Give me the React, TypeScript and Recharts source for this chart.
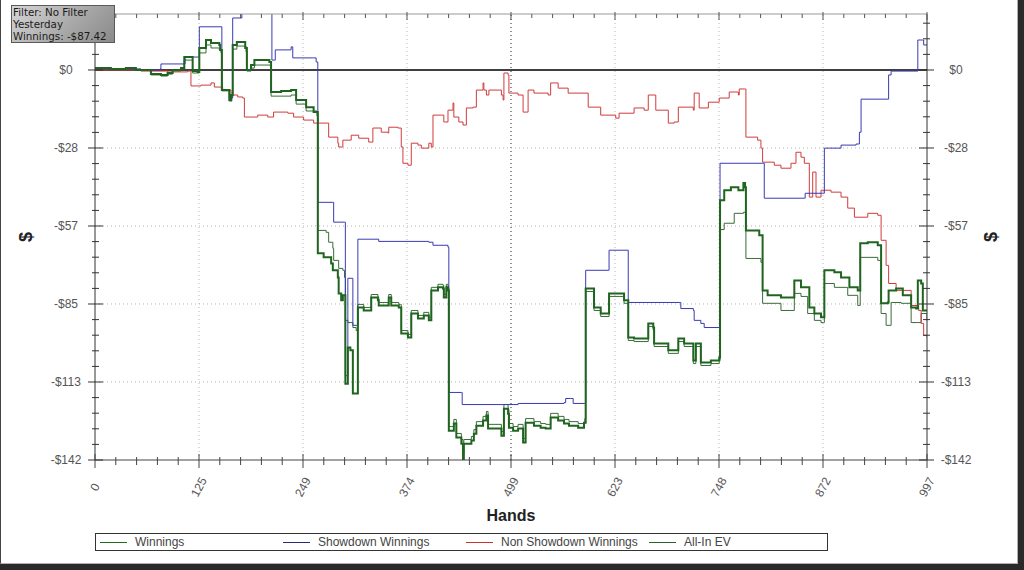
import { LineChart, Line, XAxis, YAxis, ReferenceLine } from "recharts";

// [hand, $] points
const winnings: [number, number][] = [
  [0, 0.7], [7, 0.7], [19, 0.4], [37, 0.7], [49, 0], [67, -1.5], [79, -1.8], [87, -1.1], [93, 0], [103, 0.7],
  [106, 0.7], [107, 4.7], [115, 4.7], [117, -0.4], [123, -0.7], [124, -0.7], [125, 8.0], [133, 10.9], [139, 9.8], [149, 9.1],
  [150, 7.3], [151, 7.3], [152, -7.3], [161, -10.9], [163, -9.1], [164, -9.1], [165, 9.1], [170, 10.2], [180, 8.0], [181, 8.0],
  [182, 0], [187, 1.8], [191, 3.6], [209, 2.9], [210, 2.9], [211, -8.0], [223, -7.6], [235, -7.3], [241, -10.9], [253, -13.5],
  [262, -15.3], [266, -15.3], [267, -66.6], [274, -68.1], [283, -70.3], [285, -72.8], [291, -75.4], [292, -81.2], [295, -83.7], [297, -81.9],
  [299, -81.9], [300, -114.0], [302, -114.0], [303, -100.9], [306, -101.9], [308, -101.9], [309, -117.6], [313, -117.6], [315, -86.3], [322, -87.4],
  [331, -82.7], [339, -83.7], [340, -85.6], [352, -82.7], [355, -85.6], [364, -86.3], [366, -86.3], [367, -95.8], [375, -97.2], [379, -88.5],
  [387, -90.3], [394, -89.2], [400, -91.0], [402, -91.0], [403, -80.1], [411, -79.0], [417, -79.4], [418, -82.7], [421, -79.0], [423, -80.1],
  [424, -131.1], [430, -128.5], [433, -133.6], [439, -135.8], [441, -142.0], [442, -135.8], [451, -134.7], [454, -132.2], [457, -129.3], [465, -127.4],
  [469, -125.6], [471, -130.3], [477, -130.3], [487, -132.9], [490, -123.1], [495, -124.9], [496, -130.0], [501, -131.1], [507, -130.3], [513, -135.4],
  [516, -128.2], [526, -129.3], [534, -130.0], [540, -130.3], [546, -126.3], [555, -127.4], [562, -128.5], [568, -129.3], [579, -130.0], [586, -128.2],
  [587, -128.2], [588, -79.4], [598, -86.3], [606, -88.5], [616, -81.2], [628, -81.2], [634, -83.7], [639, -97.2], [646, -97.6], [663, -92.1],
  [669, -93.6], [670, -99.4], [687, -101.9], [699, -97.6], [706, -99.4], [717, -105.6], [720, -99.4], [726, -106.3], [738, -105.6], [748, -104.5],
  [749, -47.3], [754, -43.7], [762, -42.6], [771, -43.7], [777, -41.1], [779, -42.6], [780, -58.3], [796, -60.1], [799, -60.1], [800, -80.1],
  [806, -81.9], [822, -82.7], [838, -76.5], [846, -79.0], [856, -86.3], [862, -88.5], [870, -89.9], [873, -89.9], [874, -72.8], [886, -73.5],
  [894, -75.4], [904, -79.0], [914, -80.1], [916, -80.1], [917, -63.0], [926, -62.6], [938, -63.7], [941, -63.7], [942, -84.8], [950, -84.5],
  [951, -80.1], [960, -79.4], [968, -81.9], [978, -86.3], [984, -86.7], [986, -76.5], [990, -77.6], [992, -87.4], [997, -87.4],
];

const allInEV: [number, number][] = [
  [0, 0.7], [19, 0.4], [37, 0.7], [49, 0], [67, -1.8], [79, -2.2], [87, -1.5], [93, -0.4], [103, 0.4], [106, 0.4],
  [107, 3.6], [115, 3.6], [117, -1.1], [124, -1.1], [125, 6.2], [133, 9.1], [139, 8.0], [149, 7.3], [151, 6.2], [152, -7.6],
  [161, -11.3], [164, -9.5], [165, 7.6], [170, 8.7], [181, 6.6], [182, -0.4], [187, 0.7], [191, 1.8], [210, 1.5], [211, -9.5],
  [235, -9.1], [241, -12.4], [253, -14.9], [266, -16.7], [267, -58.3], [277, -59.0], [280, -62.6], [285, -64.8], [286, -69.2], [292, -72.1],
  [297, -72.8], [299, -75.4], [300, -91.0], [303, -91.8], [309, -93.6], [313, -94.7], [315, -85.2], [322, -86.3], [331, -81.6], [339, -82.6],
  [340, -84.5], [352, -81.6], [355, -84.5], [364, -85.2], [366, -85.2], [367, -94.7], [375, -96.1], [379, -87.4], [387, -89.2], [394, -88.1],
  [400, -89.9], [402, -89.9], [403, -79.0], [411, -77.9], [417, -78.3], [418, -81.6], [421, -77.9], [423, -79.0], [424, -129.6], [430, -127.0],
  [433, -132.1], [439, -134.3], [441, -139.5], [442, -134.3], [451, -133.2], [454, -130.7], [457, -127.8], [465, -125.9], [469, -124.1], [471, -128.8],
  [477, -128.8], [487, -131.4], [490, -121.6], [495, -123.4], [496, -128.5], [501, -129.6], [507, -128.8], [513, -133.9], [516, -126.7], [526, -127.8],
  [534, -128.5], [540, -128.8], [546, -124.8], [555, -125.9], [562, -127.0], [568, -127.8], [579, -128.5], [587, -126.7], [588, -80.5], [598, -87.4],
  [606, -89.6], [616, -82.3], [628, -82.3], [634, -84.8], [639, -98.3], [646, -98.7], [663, -93.2], [669, -94.7], [670, -100.5], [687, -103.0],
  [699, -98.7], [706, -100.5], [717, -106.7], [720, -100.5], [726, -107.4], [738, -106.7], [748, -105.6], [749, -58.0], [754, -55.7], [766, -52.1],
  [777, -51.7], [779, -51.7], [780, -68.5], [798, -69.9], [800, -84.8], [822, -87.4], [838, -81.2], [846, -82.3], [854, -88.5], [862, -91.0],
  [870, -91.8], [873, -91.8], [874, -77.6], [886, -79.0], [902, -81.9], [914, -85.6], [916, -85.6], [917, -68.1], [938, -69.2], [941, -69.2],
  [942, -88.5], [948, -92.8], [954, -84.5], [966, -84.8], [978, -91.8], [986, -91.8], [990, -88.5], [997, -91.0],
];

const showdown: [number, number][] = [
  [0, 0.4], [55, 0], [78, 0.4], [79, 2.2], [107, 2.2], [108, 4.7], [124, 4.7], [125, 15.7], [151, 15.7], [152, -7.3],
  [161, -10.2], [164, -10.2], [165, 18.9], [175, 18.9], [176, 23.7], [211, 23.7], [212, 3.6], [216, 7.3], [235, 8.4], [237, 4.4],
  [262, 4.4], [265, 2.9], [266, 2.9], [267, -48.1], [285, -48.1], [286, -55.3], [299, -55.3], [300, -111.1], [302, -111.1], [303, -75.7],
  [308, -75.7], [309, -92.8], [313, -92.8], [315, -61.5], [340, -62.3], [400, -62.6], [405, -63.7], [423, -64.4], [424, -117.2], [439, -117.2],
  [440, -121.6], [490, -121.6], [507, -121.2], [562, -120.9], [564, -119.4], [570, -119.4], [573, -121.2], [587, -121.2], [588, -72.8], [615, -72.8],
  [616, -65.5], [634, -65.5], [639, -84.5], [700, -84.5], [702, -86.7], [717, -87.4], [718, -91.0], [726, -92.1], [730, -93.6], [748, -93.6],
  [749, -33.9], [800, -33.9], [802, -46.6], [850, -46.6], [851, -44.8], [872, -44.8], [874, -28.4], [894, -27.3], [912, -26.9], [916, -22.6],
  [918, -10.6], [949, -10.6], [951, -1.8], [954, -0.4], [985, -0.4], [986, 10.9], [992, 10.9], [993, 9.1], [997, 9.1],
];

const nonShowdown: [number, number][] = [
  [0, 0], [31, 0], [55, -0.4], [87, -0.7], [111, -0.4], [114, -0.4], [115, -5.8], [127, -5.5], [139, -4.7], [143, -6.2],
  [153, -7.3], [163, -9.1], [171, -9.8], [177, -10.2], [179, -17.1], [195, -16.4], [207, -17.1], [214, -15.3], [231, -15.7], [238, -17.1],
  [250, -18.2], [262, -19.3], [279, -19.3], [280, -24.4], [291, -26.6], [292, -28.0], [297, -25.5], [307, -23.7], [316, -24.8], [328, -26.2],
  [333, -21.1], [343, -22.6], [351, -22.9], [352, -20.8], [363, -21.1], [367, -28.0], [369, -33.9], [375, -34.6], [379, -26.6], [387, -27.3],
  [391, -28.4], [400, -26.6], [403, -28.0], [405, -16.4], [415, -16.4], [418, -18.9], [423, -14.6], [429, -12.0], [430, -17.1], [436, -18.9],
  [441, -20.0], [445, -13.8], [453, -13.5], [457, -7.3], [465, -4.7], [466, -7.3], [469, -9.1], [472, -7.3], [487, -9.1], [489, -10.9],
  [490, -1.1], [495, -1.8], [496, -8.4], [507, -9.1], [513, -15.3], [519, -7.3], [526, -8.4], [543, -9.1], [546, -4.7], [555, -6.6],
  [567, -8.4], [586, -8.4], [591, -13.5], [598, -13.5], [606, -16.4], [624, -17.5], [628, -15.7], [646, -13.8], [658, -14.6], [663, -9.1],
  [670, -9.1], [672, -14.6], [687, -19.3], [694, -18.9], [699, -13.5], [717, -14.6], [718, -8.4], [724, -13.8], [735, -11.7], [748, -10.2],
  [760, -8.0], [771, -9.1], [772, -6.9], [778, -6.9], [780, -24.4], [794, -25.5], [798, -28.4], [800, -33.5], [814, -34.6], [822, -35.7],
  [834, -33.9], [840, -29.9], [846, -31.7], [850, -33.9], [856, -46.2], [860, -37.1], [864, -46.2], [870, -43.7], [882, -44.4], [894, -46.2],
  [902, -50.2], [910, -53.5], [926, -52.1], [938, -52.8], [942, -61.9], [948, -71.0], [951, -77.6], [960, -80.1], [978, -85.6], [987, -87.4],
  [990, -92.1], [993, -96.5], [997, -97.2],
];

const xTickLabels = ["0", "125", "249", "374", "499", "623", "748", "872", "997"];
const yTickLabels = ["$0", "-$28", "-$57", "-$85", "-$113", "-$142"];
const filterLines = ["Filter: No Filter", "Yesterday", "Winnings: -$87.42"];

const legendItems = [
  { name: "Winnings", color: "#1f6a1f" },
  { name: "Showdown Winnings", color: "#2a2a78" },
  { name: "Non Showdown Winnings", color: "#c83232" },
  { name: "All-In EV", color: "#2d5e2d" },
];

const HANDS = 997;
const Y_MIN = -141.75;
const Y_MAX = 20.35;
const X_MINOR = HANDS / 40;
const Y_MINOR = 28.35 / 5;

const xTicks = Array.from({ length: 41 }, (_, i) => i * X_MINOR);
const yTicks = Array.from({ length: 29 }, (_, i) => Y_MIN + i * Y_MINOR);

const font = "'Liberation Sans', Arial, sans-serif";

const toPts = (s: [number, number][]) => s.map(([h, v]) => ({ hand: h, value: v }));

function LeftTick(props: any) {
  const { x, y, payload } = props;
  const i = Math.round((payload.value - Y_MIN) / Y_MINOR);
  const major = i % 5 === 0;
  return (
    <g>
      <line x1={major ? x - 7 : x - 3} x2={major ? x + 8 : x + 4} y1={y} y2={y} stroke="#333" />
      {major && (
        <text x={x - 29} y={y + 4} textAnchor="middle" fontFamily={font} fontSize={12} fill="#555">
          {yTickLabels[5 - i / 5]}
        </text>
      )}
    </g>
  );
}

function RightTick(props: any) {
  const { x, y, payload } = props;
  const i = Math.round((payload.value - Y_MIN) / Y_MINOR);
  const major = i % 5 === 0;
  return (
    <g>
      <line x1={major ? x - 8 : x - 4} x2={major ? x + 7 : x + 3} y1={y} y2={y} stroke="#333" />
      {major && (
        <text x={x + 29} y={y + 4} textAnchor="middle" fontFamily={font} fontSize={12} fill="#555">
          {yTickLabels[5 - i / 5]}
        </text>
      )}
    </g>
  );
}

function BottomTick(props: any) {
  const { x, y, payload } = props;
  const i = Math.round(payload.value / X_MINOR);
  const major = i % 5 === 0;
  const tx = x + 3.5;
  const ty = y + 29;
  return (
    <g>
      <line x1={x} x2={x} y1={major ? y - 6 : y - 3} y2={major ? y + 8 : y + 5} stroke="#444" />
      {major && (
        <text x={tx} y={ty} textAnchor="middle" transform={`rotate(-62, ${tx}, ${ty})`}
          fontFamily={font} fontSize={12} fill="#555">
          {xTickLabels[i / 5]}
        </text>
      )}
    </g>
  );
}

function TopTick(props: any) {
  const { x, y, payload } = props;
  const i = Math.round(payload.value / X_MINOR);
  const major = i % 5 === 0;
  return <line x1={x} x2={x} y1={major ? y - 2 : y} y2={major ? y + 6 : y + 4} stroke="#555" />;
}

export default function App() {
  return (
    <div style={{ position: "absolute", left: 0, top: 0, width: 1024, height: 570, background: "#2a2a2a" }}>
      <div
        style={{
          position: "absolute", left: 0, top: 0, width: 1018, height: 564, background: "#fff",
          borderLeft: "1px solid #444", borderRight: "1px solid #b0b0b0", borderBottom: "1px solid #b0b0b0",
          boxSizing: "border-box",
        }}
      >
        <LineChart width={1016} height={562} margin={{ top: 0, right: 0, bottom: 0, left: 0 }}>
          <XAxis
            xAxisId="b" type="number" dataKey="hand" domain={[0, HANDS]} allowDataOverflow ticks={xTicks}
            interval={0} height={102} tickLine={false} tickSize={0} tickMargin={0} tick={BottomTick}
            axisLine={{ stroke: "#444" }}
            label={(p: any) => (
              <text x={510} y={521} textAnchor="middle" fontFamily={font} fontWeight="bold" fontSize={16} fill="#222">
                Hands
              </text>
            )}
          />
          <XAxis
            xAxisId="t" orientation="top" type="number" dataKey="hand" domain={[0, HANDS]} allowDataOverflow
            ticks={xTicks} interval={0} height={14} tickLine={false} tickSize={0} tickMargin={0} tick={TopTick}
            axisLine={{ stroke: "#999" }}
          />
          <YAxis
            yAxisId="l" type="number" domain={[Y_MIN, Y_MAX]} allowDataOverflow ticks={yTicks} interval={0}
            width={94} tickLine={false} tickSize={0} tickMargin={0} tick={LeftTick} axisLine={{ stroke: "#333" }}
            label={(p: any) => (
              <text x={25} y={237} textAnchor="middle" dominantBaseline="central" transform="rotate(-90, 25, 237)"
                fontFamily={font} fontWeight="bold" fontSize={18} fill="#222">
                $
              </text>
            )}
          />
          <YAxis
            yAxisId="r" orientation="right" type="number" domain={[Y_MIN, Y_MAX]} allowDataOverflow ticks={yTicks}
            interval={0} width={90} tickLine={false} tickSize={0} tickMargin={0} tick={RightTick}
            axisLine={{ stroke: "#333" }}
            label={(p: any) => (
              <text x={990} y={237} textAnchor="middle" dominantBaseline="central" transform="rotate(-90, 990, 237)"
                fontFamily={font} fontWeight="bold" fontSize={18} fill="#222">
                $
              </text>
            )}
          />
          {[1, 2, 3, 4, 5, 6, 7].map((k) => (
            <ReferenceLine key={"vx" + k} xAxisId="b" yAxisId="l" x={k * 5 * X_MINOR}
              stroke={k === 4 ? "#222" : "#b4b4b4"} strokeDasharray="1 3" />
          ))}
          {[1, 2, 3, 4].map((k) => (
            <ReferenceLine key={"hy" + k} xAxisId="b" yAxisId="l" y={-k * 28.35}
              stroke="#b4b4b4" strokeDasharray="1 3" />
          ))}
          <ReferenceLine xAxisId="b" yAxisId="l" y={0} stroke="#000" strokeWidth={1.5} />
          <Line xAxisId="b" yAxisId="l" data={toPts(allInEV)} dataKey="value" name="All-In EV" type="stepAfter"
            stroke="#3b6b3b" strokeWidth={1} dot={false} isAnimationActive={false} />
          <Line xAxisId="b" yAxisId="l" data={toPts(nonShowdown)} dataKey="value" name="Non Showdown Winnings" type="stepAfter"
            stroke="#d03c3c" strokeWidth={1} dot={false} isAnimationActive={false} />
          <Line xAxisId="b" yAxisId="l" data={toPts(showdown)} dataKey="value" name="Showdown Winnings" type="stepAfter"
            stroke="#3a3ab4" strokeWidth={1} dot={false} isAnimationActive={false} />
          <Line xAxisId="b" yAxisId="l" data={toPts(winnings)} dataKey="value" name="Winnings" type="stepAfter"
            stroke="#1f641f" strokeWidth={2} dot={false} isAnimationActive={false} />
        </LineChart>

        <div
          style={{
            position: "absolute", left: 94, top: 533, width: 733, height: 18, border: "1px solid #333",
            boxSizing: "border-box", background: "#fff", fontFamily: font, fontSize: 12, color: "#444",
          }}
        >
          {legendItems.map((it, i) => (
            <div key={it.name} style={{ position: "absolute", left: 4 + i * 183, top: 0, height: 16, display: "flex", alignItems: "center" }}>
              <span style={{ display: "inline-block", width: 27, height: 0, borderTop: `1px solid ${it.color}`, marginRight: 8 }} />
              <span style={{ whiteSpace: "nowrap" }}>{it.name}</span>
            </div>
          ))}
        </div>

        <div
          style={{
            position: "absolute", left: 10, top: 5, width: 104, height: 38, boxSizing: "border-box",
            border: "1px solid #5a5a5a", background: "linear-gradient(135deg, #d6d6d6 0%, #a9a9a9 55%, #8a8a8a 100%)",
            fontFamily: "'DejaVu Sans', Verdana, sans-serif", fontSize: 10.3, lineHeight: "12px", color: "#1a1a1a",
            padding: "0 0 0 1px", whiteSpace: "nowrap",
          }}
        >
          {filterLines.map((t) => (
            <div key={t}>{t}</div>
          ))}
        </div>
      </div>
    </div>
  );
}
